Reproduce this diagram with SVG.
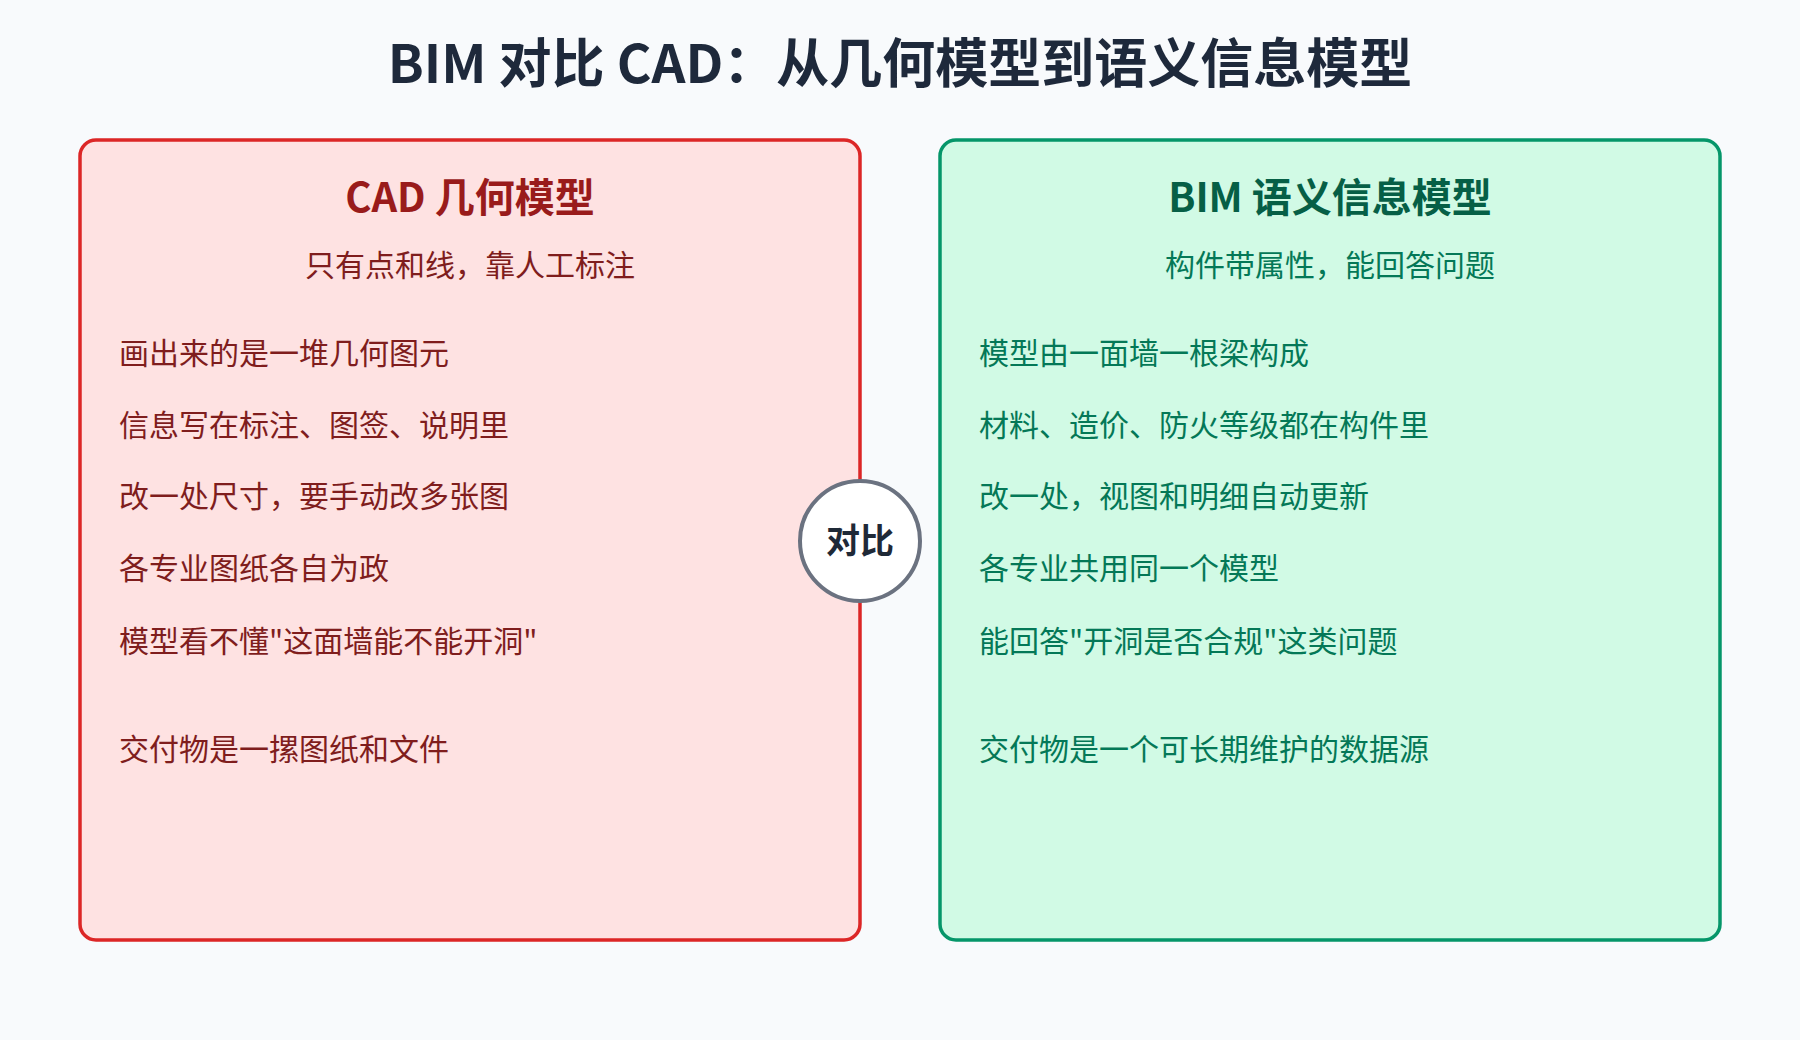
<svg xmlns="http://www.w3.org/2000/svg" width="1800" height="1040" viewBox="0 0 1800 1040">
<style>
text{font-family:"Noto Sans CJK SC","Noto Sans",sans-serif}
.t{font-size:53px;font-weight:700;fill:#1e293b;text-anchor:middle}
.h{font-size:40px;font-weight:700;text-anchor:middle}
.s{font-size:30px;text-anchor:middle}
.i{font-size:30px}
.L{fill:#991b1b}.R{fill:#065f46}
.li{fill:#7f1d1d}.ri{fill:#047857}
</style>
<rect width="1800" height="1040" fill="#f8fafc"/>
<text class="t" x="900" y="83">BIM 对比 CAD：从几何模型到语义信息模型</text>
<g id="cad">
<rect x="80" y="140" width="780" height="800" rx="16" fill="#fee2e2" stroke="#dc2626" stroke-width="3.5"/>
<text class="h L" x="470" y="212">CAD 几何模型</text>
<text class="s li" x="470" y="276">只有点和线，靠人工标注</text>
<g class="i li">
<text x="119" y="364">画出来的是一堆几何图元</text>
<text x="119" y="436">信息写在标注、图签、说明里</text>
<text x="119" y="507">改一处尺寸，要手动改多张图</text>
<text x="119" y="579">各专业图纸各自为政</text>
<text x="119" y="652">模型看不懂"这面墙能不能开洞"</text>
<text x="119" y="760">交付物是一摞图纸和文件</text>
</g>
</g>
<g id="bim">
<rect x="940" y="140" width="780" height="800" rx="16" fill="#d1fae5" stroke="#059669" stroke-width="3.5"/>
<text class="h R" x="1330" y="212">BIM 语义信息模型</text>
<text class="s ri" x="1330" y="276">构件带属性，能回答问题</text>
<g class="i ri">
<text x="979" y="364">模型由一面墙一根梁构成</text>
<text x="979" y="436">材料、造价、防火等级都在构件里</text>
<text x="979" y="507">改一处，视图和明细自动更新</text>
<text x="979" y="579">各专业共用同一个模型</text>
<text x="979" y="652">能回答"开洞是否合规"这类问题</text>
<text x="979" y="760">交付物是一个可长期维护的数据源</text>
</g>
</g>
<g id="vs">
<circle cx="860" cy="541" r="60" fill="#ffffff" stroke="#6b7280" stroke-width="4"/>
<text x="860" y="553" font-size="34" font-weight="700" fill="#1f2937" text-anchor="middle">对比</text>
</g>
</svg>
